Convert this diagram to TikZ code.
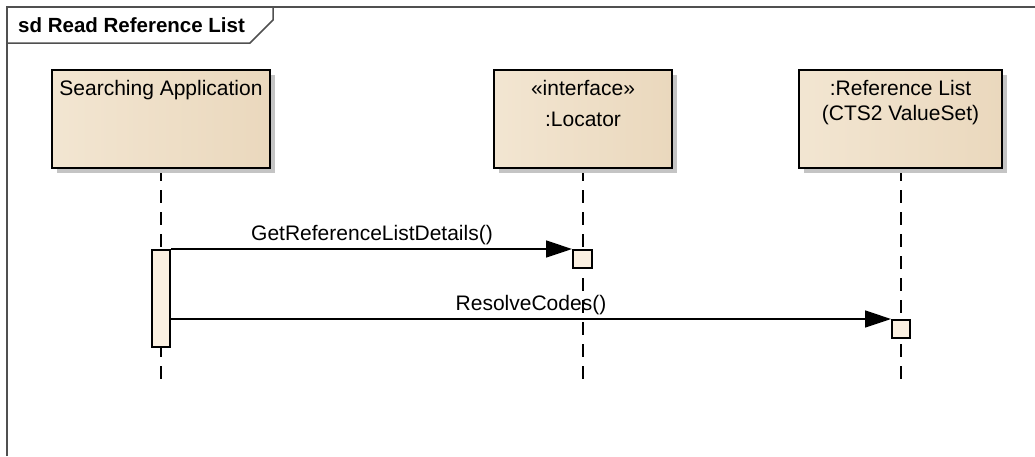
\documentclass[tikz,border=0pt]{standalone}
\usepackage{fontspec}
\setmainfont{Liberation Sans}
\usepackage{tikz}
\usetikzlibrary{positioning,arrows.meta,shadows}

\definecolor{boxlight}{HTML}{FBF3E6}
\definecolor{boxdark}{HTML}{EAD8BD}
\definecolor{actfill}{HTML}{FBF0E1}
\definecolor{shadowgrey}{HTML}{C4C4C4}
\definecolor{framegrey}{HTML}{505050}

\begin{document}
\begin{tikzpicture}[x=1pt, y=-1pt,
  every node/.style={font=\fontsize{21}{24}\selectfont, inner sep=0pt},
  lifebox/.style={draw=black, line width=2pt, left color=boxdark!50!boxlight, middle color=boxlight, right color=boxdark,
    general shadow={fill=shadowgrey, shadow xshift=5pt, shadow yshift=-5pt}},
  lifeline/.style={line width=2pt, dash pattern=on 13pt off 9pt},
  actbox/.style={draw=black, line width=2pt, fill=actfill},
  msg/.style={line width=1.5pt, -{Triangle[length=26pt,width=17pt]}},
  frameline/.style={draw=framegrey, line width=1.5pt}]
\useasboundingbox (0,0) rectangle (1035,456);

% frame and its tag
\draw[frameline] (7,456) -- (7,7) -- (1035,7);
\draw[frameline] (7,43) -- (250,43) -- (273,20) -- (273,7);
\node[anchor=base west, font=\fontsize{20.5}{24}\selectfont\bfseries] (title) at (18,32) {sd Read Reference List};

% lifelines
\coordinate (append) at (161,380);
\coordinate (locend) at (583,380);
\coordinate (refend) at (901,380);
\draw[lifeline] (161,168) -- (append);
\draw[lifeline] (583,168) -- (locend);
\draw[lifeline] (901,168) -- (refend);

% heads
\node[lifebox, minimum width=218, minimum height=98] (app) at (161,119) {};
\node[lifebox, minimum width=178, minimum height=98] (loc) at (583,119) {};
\node[lifebox, minimum width=203, minimum height=98] (ref) at (900.5,119) {};
\node[anchor=base] (apptxt) at (161,95) {Searching Application};
\node[anchor=base] (loctxt) at (583,95) {«interface»};
\node[anchor=base] (locname) at (583,126) {:Locator};
\node[anchor=base] (reftxt) at (900.5,95) {:Reference List};
\node[anchor=base] (refname) at (900.5,120) {(CTS2 ValueSet)};

% activations
\node[actbox, minimum width=18, minimum height=97] (appact) at (161,298.5) {};
\node[actbox, minimum width=19, minimum height=18] (locact) at (582.5,259) {};
\node[actbox, minimum width=18, minimum height=18] (refact) at (901,329) {};

% messages
\draw[msg] (appact.east |- locact.north west) -- (locact.north west);
\draw[msg] (appact.east |- refact.north west) -- (refact.north west);
\node[anchor=base] (getdetails) at (372,240) {GetReferenceListDetails()};
\node[anchor=base] (resolve) at (531,310) {ResolveCodes()};
\end{tikzpicture}
\end{document}
